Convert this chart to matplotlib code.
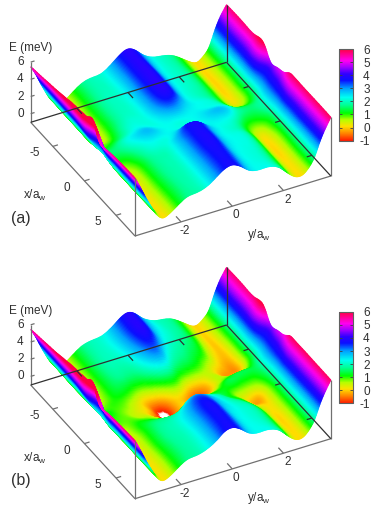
import numpy as np
import matplotlib
matplotlib.use('Agg')
import matplotlib.pyplot as plt
import matplotlib.tri as mtri
from matplotlib.colors import LinearSegmentedColormap, Normalize
from matplotlib.cm import ScalarMappable

plt.rcParams['font.family'] = ['Liberation Sans', 'DejaVu Sans']
plt.rcParams['axes.unicode_minus'] = False

x_grid = [-8.5, -6, -4, -2.5, -1.5, -0.5, 0.3, 1, 1.6, 2.2, 3, 5, 8]
y_grid = [-3.8, -3.6, -3.4, -3.2, -3.0, -2.75, -2.5, -2.2, -1.8, -1.4, -1.0, -0.6, -0.3, 0,
          0.3, 0.6, 1.0, 1.4, 1.8, 2.2, 2.5, 2.75, 3.0, 3.2, 3.4, 3.6, 3.85]

# energy, one row per x
energy_a = [
    [5.46, 4.4, 3.1, 1.9, 0.9, 0.3, 0.3, 0.9, 1.7, 2.0, 2.2, 3.0, 3.7, 4.05, 3.6, 2.8, 2.2, 2.0, 1.6, 0.8, 0.2, 0.1, 0.7, 1.6, 3.2, 4.5, 5.7],
    [5.8, 4.4, 3.1, 1.9, 0.9, 0.3, 0.3, 0.9, 1.7, 2.0, 2.2, 3.0, 3.7, 4.0, 3.6, 2.8, 2.2, 2.0, 1.6, 0.8, 0.2, 0.1, 0.7, 1.6, 3.2, 4.5, 5.75],
    [6.1, 4.4, 3.1, 1.9, 0.9, 0.3, 0.3, 0.9, 1.7, 2.0, 2.2, 3.0, 3.7, 4.0, 3.6, 2.8, 2.2, 2.0, 1.6, 0.8, 0.2, 0.1, 0.7, 1.6, 3.2, 4.5, 5.8],
    [6.4, 4.4, 3.1, 1.9, 0.9, 0.4, 0.4, 1.0, 1.8, 2.1, 2.2, 2.9, 3.6, 3.9, 3.5, 2.7, 2.2, 2.0, 1.6, 0.8, 0.25, 0.2, 0.7, 1.6, 3.2, 4.5, 5.85],
    [6.55, 4.3, 3.0, 1.9, 1.1, 0.8, 0.9, 1.3, 2.0, 2.2, 2.2, 2.6, 3.1, 3.3, 2.9, 2.5, 2.3, 2.2, 1.8, 1.0, 0.6, 0.6, 1.0, 1.7, 2.9, 3.7, 4.6],
    [6.65, 4.2, 3.0, 2.0, 1.4, 1.3, 1.5, 1.9, 2.3, 2.5, 2.3, 2.3, 2.35, 2.35, 2.35, 2.35, 2.4, 2.4, 2.2, 1.6, 1.4, 1.4, 1.6, 2.1, 3.0, 3.8, 4.8],
    [6.75, 5.0, 3.3, 2.1, 1.6, 1.6, 1.7, 2.1, 2.5, 2.75, 2.5, 2.3, 2.25, 2.2, 2.25, 2.35, 2.6, 2.75, 2.4, 1.8, 1.6, 1.6, 1.8, 2.2, 3.1, 3.9, 5.0],
    [7.2, 5.5, 3.5, 2.0, 1.3, 1.2, 1.3, 1.7, 2.2, 2.4, 2.3, 2.4, 2.6, 2.7, 2.6, 2.4, 2.4, 2.4, 2.1, 1.4, 1.2, 1.3, 1.6, 2.1, 3.1, 4.1, 5.4],
    [6.8, 5.2, 3.3, 1.9, 1.0, 0.7, 0.8, 1.3, 2.0, 2.2, 2.2, 2.7, 3.4, 3.6, 3.3, 2.7, 2.3, 2.2, 1.8, 1.0, 0.7, 0.8, 1.2, 1.9, 3.1, 4.3, 5.8],
    [5.6, 4.5, 3.1, 1.9, 0.9, 0.4, 0.5, 1.0, 1.8, 2.0, 2.2, 3.0, 3.6, 3.8, 3.5, 2.8, 2.3, 2.1, 1.7, 0.8, 0.3, 0.4, 1.0, 1.8, 3.2, 4.5, 5.85],
    [5.3, 4.3, 3.1, 1.9, 0.9, 0.2, 0.3, 0.9, 1.7, 1.9, 2.2, 3.0, 3.6, 3.8, 3.5, 2.8, 2.3, 2.2, 1.8, 0.8, 0.15, 0.2, 0.8, 1.7, 3.2, 4.5, 5.85],
    [5.6, 4.4, 3.1, 1.9, 0.9, 0.15, 0.3, 0.9, 1.65, 1.9, 2.2, 3.0, 3.6, 3.8, 3.5, 2.8, 2.3, 2.2, 1.8, 0.8, 0.15, 0.15, 0.8, 1.7, 3.2, 4.5, 5.85],
    [5.74, 4.5, 3.2, 2.0, 0.95, 0.15, 0.3, 0.9, 1.65, 1.85, 2.2, 3.0, 3.6, 3.8, 3.4, 2.7, 2.3, 2.3, 1.9, 0.8, 0.15, 0.15, 0.8, 1.7, 3.2, 4.5, 5.83],
]
energy_b = [
    [5.46, 4.4, 3.1, 1.9, 0.9, 0.3, 0.3, 0.9, 1.7, 2.0, 2.2, 2.9, 3.6, 3.95, 3.5, 2.7, 2.1, 1.9, 1.5, 0.7, 0.1, 0.1, 0.7, 1.6, 3.2, 4.5, 5.7],
    [5.8, 4.4, 3.1, 1.9, 0.9, 0.3, 0.3, 0.9, 1.7, 2.0, 2.2, 2.9, 3.6, 3.9, 3.4, 2.6, 2.1, 1.8, 1.4, 0.6, 0.1, 0.05, 0.7, 1.6, 3.2, 4.5, 5.75],
    [6.1, 4.4, 3.1, 1.9, 0.9, 0.4, 0.4, 0.9, 1.6, 1.8, 1.8, 2.3, 2.9, 3.2, 2.6, 2.0, 1.7, 1.4, 1.0, 0.3, -0.05, -0.05, 0.6, 1.6, 3.2, 4.5, 5.8],
    [6.4, 4.4, 3.1, 1.9, 1.0, 0.5, 0.6, 1.0, 1.3, 1.1, 0.9, 1.2, 1.6, 1.8, 1.5, 1.1, 0.9, 0.7, 0.3, -0.2, -0.35, -0.3, 0.5, 1.6, 3.2, 4.5, 5.85],
    [6.55, 4.3, 2.9, 1.9, 1.1, 0.8, 0.9, 1.0, 0.8, 0.4, -0.1, -0.2, 0.2, 0.6, 0.5, 0.0, -0.3, 0.1, 0.5, -0.1, 0.0, 0.2, 0.9, 1.7, 2.9, 3.7, 4.6],
    [6.65, 4.2, 2.9, 1.9, 1.2, 1.1, 1.0, 0.8, 0.5, 0.2, -0.4, -1.2, -0.6, 0.0, -0.2, -0.5, -0.5, 0.2, 0.9, 1.2, 1.3, 1.3, 1.5, 2.1, 3.0, 3.8, 4.8],
    [6.75, 5.0, 3.2, 1.9, 1.2, 1.0, 0.9, 0.8, 0.5, 0.3, -0.5, -0.8, -0.5, 0.1, 0.2, 0.2, 0.5, 0.9, 1.4, 1.3, 1.2, 1.2, 1.5, 2.1, 3.1, 3.9, 5.0],
    [7.2, 5.5, 3.4, 1.8, 1.0, 0.8, 0.8, 0.9, 0.8, 0.6, 0.1, -0.1, 0.1, 0.7, 1.2, 1.3, 1.2, 1.2, 0.9, 0.7, 0.6, 0.7, 1.2, 1.9, 3.1, 4.1, 5.4],
    [6.8, 5.2, 3.2, 1.8, 0.9, 0.5, 0.6, 1.0, 1.1, 0.9, 0.6, 0.8, 1.4, 2.0, 2.0, 1.9, 1.6, 1.2, 0.6, 0.2, -0.05, 0.2, 0.9, 1.8, 3.1, 4.3, 5.8],
    [5.6, 4.5, 3.0, 1.8, 0.9, 0.4, 0.5, 1.0, 1.4, 1.4, 1.3, 1.7, 2.5, 2.9, 2.7, 2.3, 1.9, 1.3, 0.8, -0.1, -0.25, 0.1, 0.8, 1.7, 3.2, 4.5, 5.85],
    [5.3, 4.3, 3.0, 1.9, 0.9, 0.3, 0.4, 0.9, 1.6, 1.8, 2.0, 2.6, 3.2, 3.4, 3.1, 2.6, 2.1, 1.7, 1.1, 0.3, 0.1, 0.2, 0.8, 1.7, 3.2, 4.5, 5.85],
    [5.6, 4.4, 3.1, 1.9, 0.9, 0.2, 0.3, 0.9, 1.65, 1.9, 2.2, 2.9, 3.5, 3.75, 3.4, 2.7, 2.3, 2.1, 1.7, 0.7, 0.1, 0.15, 0.8, 1.7, 3.2, 4.5, 5.85],
    [5.74, 4.5, 3.2, 2.0, 0.95, 0.15, 0.3, 0.9, 1.65, 1.85, 2.2, 2.9, 3.6, 3.8, 3.4, 2.7, 2.3, 2.3, 1.9, 0.8, 0.15, 0.15, 0.8, 1.7, 3.2, 4.5, 5.83],
]

x_ticks = [-5, 0, 5]
y_ticks = [-2, 0, 2]
z_ticks = [0, 2, 4, 6]
bar_ticks = [-1, 0, 1, 2, 3, 4, 5, 6]
panel_names = ['(a)', '(b)']

XMIN, XMAX = -8.5, 8.0
YMIN, YMAX = -3.8, 3.85
ZMIN, ZMAX = -1.0, 6.0

# gnuplot view is orthographic, so one pixel step per unit on each axis
EX = (6.32, 6.89)
EY = (25.6, -7.84)
EZ = 8.6
LEFT_X = 30.7
PANEL_TOP = [122.3, 385.0]

# palette stops as on the colour bar
bar_colors = [(-1.0, '#ff1a00'), (-0.5, '#ff7a00'), (0.1, '#ffe000'), (0.6, '#b4ff00'),
              (1.1, '#00ff00'), (1.7, '#00ff90'), (2.3, '#00fff0'), (3.0, '#00a0ff'),
              (3.6, '#0a10ff'), (4.1, '#3000ff'), (4.6, '#a000ff'), (5.1, '#ff00f0'),
              (5.6, '#ff0090'), (6.0, '#ff0040')]
cmap = LinearSegmentedColormap.from_list(
    'bands', [((v + 1) / 7, c) for v, c in bar_colors], N=512)
cmap.set_under('white')
norm = Normalize(ZMIN, ZMAX)


def project(x, y, z, floor):
    sx = LEFT_X + (np.asarray(x) - XMIN) * EX[0] + (np.asarray(y) - YMIN) * EY[0]
    sy = floor + (np.asarray(x) - XMIN) * EX[1] + (np.asarray(y) - YMIN) * EY[1] - (np.asarray(z) - ZMIN) * EZ
    return sx, sy


def edge(ax, p0, p1, floor, color, z=6):
    sx, sy = project([p0[0], p1[0]], [p0[1], p1[1]], [p0[2], p1[2]], floor)
    ax.plot(sx, sy, color=color, lw=0.9, zorder=z, solid_capstyle='butt')


def surface(ax, energy, floor):
    xx, yy = np.meshgrid(x_grid, y_grid, indexing='ij')
    nx, ny = xx.shape
    idx = np.arange(nx * ny).reshape(nx, ny)
    a, b, c, d = idx[:-1, :-1].ravel(), idx[1:, :-1].ravel(), idx[1:, 1:].ravel(), idx[:-1, 1:].ravel()
    tris = np.vstack([np.c_[a, b, c], np.c_[a, c, d]])
    base = mtri.Triangulation(xx.ravel(), yy.ravel(), tris)
    # library smoothing of the read grid for drawing, like a bicubic imshow
    fine, zfine = mtri.UniformTriRefiner(base).refine_field(np.array(energy).ravel(), subdiv=3)
    sx, sy = project(fine.x, fine.y, zfine, floor)
    # paint far triangles first, depth runs along the view direction on the floor
    cx = fine.x[fine.triangles].mean(axis=1)
    cy = fine.y[fine.triangles].mean(axis=1)
    order = np.argsort(EY[0] * cx - EX[0] * cy)
    ax.tripcolor(sx, sy, fine.triangles[order], zfine, shading='gouraud', cmap=cmap, norm=norm, zorder=2)


def draw_panel(ax, energy, floor, name):
    surface(ax, energy, floor)

    grey = '#707070'
    dark = '#303030'
    edge(ax, (XMIN, YMIN, ZMIN), (XMAX, YMIN, ZMIN), floor, grey)
    edge(ax, (XMAX, YMIN, ZMIN), (XMAX, YMAX, ZMIN), floor, grey)
    edge(ax, (XMIN, YMIN, ZMIN), (XMIN, YMIN, ZMAX), floor, grey)
    edge(ax, (XMAX, YMIN, ZMIN), (XMAX, YMIN, energy[-1][0]), floor, grey)
    edge(ax, (XMAX, YMAX, ZMIN), (XMAX, YMAX, energy[-1][-1]), floor, grey)
    edge(ax, (XMIN, YMIN, ZMIN), (XMIN, YMAX, ZMIN), floor, dark)
    edge(ax, (XMIN, YMAX, ZMIN), (XMAX, YMAX, ZMIN), floor, dark)
    edge(ax, (XMIN, YMAX, ZMIN), (XMIN, YMAX, energy[0][-1]), floor, dark)

    for v in x_ticks:
        edge(ax, (v, YMIN, ZMIN), (v, YMIN + 0.2, ZMIN), floor, grey)
        edge(ax, (v, YMAX, ZMIN), (v, YMAX - 0.2, ZMIN), floor, dark)
        sx, sy = project(v, YMIN, ZMIN, floor)
        ax.text(sx - 18, sy + 7, str(v), ha='center', va='center', fontsize=8.5, color='#303030')
    for v in y_ticks:
        edge(ax, (XMAX, v, ZMIN), (XMAX - 0.8, v, ZMIN), floor, grey)
        edge(ax, (XMIN, v, ZMIN), (XMIN + 0.8, v, ZMIN), floor, dark)
        sx, sy = project(XMAX, v, ZMIN, floor)
        ax.text(sx + 4, sy + 9, str(v), ha='center', va='center', fontsize=8.5, color='#303030')
    for v in z_ticks:
        edge(ax, (XMIN, YMIN, v), (XMIN, YMIN + 0.15, v), floor, grey)
        sx, sy = project(XMIN, YMIN, v, floor)
        ax.text(sx - 7, sy, str(v), ha='right', va='center', fontsize=8.5, color='#303030')

    ax.text(9.5, floor - 74, 'E (meV)', ha='left', va='center', fontsize=8.5, color='#303030')
    ax.text(23, floor + 73, r'x/a$_{\mathregular{w}}$', ha='left', va='center', fontsize=8.5, color='#303030')
    ax.text(247, floor + 113, r'y/a$_{\mathregular{w}}$', ha='left', va='center', fontsize=8.5, color='#303030')
    ax.text(11, floor + 96, name, ha='left', va='center', fontsize=11.5, color='#303030')

    bar_bottom = floor + 18.4
    cax = ax.figure.add_axes([338.5 / 374, 1 - bar_bottom / 511, 14.5 / 374, 91.7 / 511])
    cb = ax.figure.colorbar(ScalarMappable(norm=norm, cmap=cmap), cax=cax, ticks=bar_ticks)
    cb.outline.set_edgecolor('#606060')
    cb.outline.set_linewidth(0.8)
    cax.tick_params(direction='in', left=True, right=True, length=2.5, width=0.6,
                    color='#404040', labelsize=8.5, labelcolor='#303030', pad=12)
    for lab in cax.get_yticklabels():
        lab.set_ha('right')


fig = plt.figure(figsize=(3.74, 5.11), dpi=100)
ax = fig.add_axes([0, 0, 1, 1])
draw_panel(ax, energy_a, PANEL_TOP[0], panel_names[0])
draw_panel(ax, energy_b, PANEL_TOP[1], panel_names[1])
ax.set_xlim(0, 374)
ax.set_ylim(511, 0)
ax.axis('off')
fig.savefig('out.png', dpi=100)
